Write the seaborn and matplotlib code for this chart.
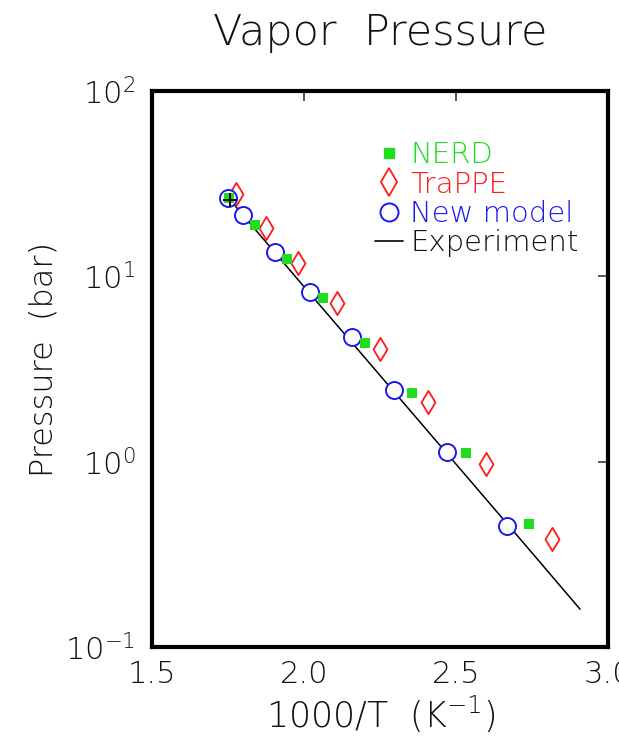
import numpy as np
import pandas as pd
import seaborn as sns
import matplotlib
matplotlib.use("Agg")
import matplotlib.pyplot as plt
from matplotlib.ticker import FixedLocator, FixedFormatter, NullLocator
from matplotlib.lines import Line2D

# ---- data ----
nerd_x = [1.753, 1.839, 1.944, 2.063, 2.201, 2.355, 2.533, 2.740]
nerd_y = [26.4, 18.9, 12.4, 7.6, 4.35, 2.36, 1.12, 0.462]

trappe_x = [1.776, 1.875, 1.980, 2.109, 2.250, 2.408, 2.599, 2.816]
trappe_y = [27.7, 18.2, 11.8, 7.14, 4.03, 2.11, 0.975, 0.384]

new_x = [1.750, 1.799, 1.905, 2.020, 2.158, 2.296, 2.470, 2.668]
new_y = [26.4, 21.4, 13.6, 8.2, 4.68, 2.45, 1.13, 0.451]

exp_x = [1.757, 2.0, 2.25, 2.5, 2.75, 2.908]
exp_y = [25.8, 8.79, 2.92, 0.970, 0.322, 0.160]

crit_x = [1.757]
crit_y = [25.8]

x_ticks = [1.5, 2.0, 2.5, 3.0]
x_ticklabels = ["1.5", "2.0", "2.5", "3.0"]
y_ticks = [0.1, 1, 10, 100]
y_ticklabels = [r"$10^{-1}$", r"$10^{0}$", r"$10^{1}$", r"$10^{2}$"]

GREEN = "#1EDC1E"
RED = "#FF1A1A"
BLUE = "#1A1AF0"
TXT = "#111111"

sns.set_style("white")
plt.rcParams["font.family"] = ["DejaVu Sans"]
plt.rcParams["font.weight"] = 200
plt.rcParams["axes.titleweight"] = 200
plt.rcParams["axes.labelweight"] = 200
plt.rcParams["mathtext.fontset"] = "custom"
plt.rcParams["mathtext.rm"] = "DejaVu Sans:weight=200"
plt.rcParams["mathtext.it"] = "DejaVu Sans:weight=200"
plt.rcParams["mathtext.default"] = "rm"

fig = plt.figure(figsize=(6.19, 7.37), dpi=100)
ax = fig.add_axes([0.2456, 0.1221, 0.7367, 0.7544])

exp_df = pd.DataFrame({"x": exp_x, "y": exp_y})
sns.lineplot(data=exp_df, x="x", y="y", ax=ax, color="black", lw=1.1,
             sort=False, zorder=2, legend=False)

tr_df = pd.DataFrame({"x": trappe_x, "y": trappe_y})
sns.scatterplot(data=tr_df, x="x", y="y", ax=ax, marker="d", s=140,
                facecolor="white", edgecolor=RED, linewidth=1.3, zorder=3,
                legend=False)

nw_df = pd.DataFrame({"x": new_x, "y": new_y})
sns.scatterplot(data=nw_df, x="x", y="y", ax=ax, marker="o", s=150,
                facecolor="white", edgecolor=BLUE, linewidth=1.4, zorder=4,
                legend=False)

nd_df = pd.DataFrame({"x": nerd_x, "y": nerd_y})
sns.scatterplot(data=nd_df, x="x", y="y", ax=ax, marker="s", s=55,
                color=GREEN, edgecolor=GREEN, linewidth=0, zorder=5,
                legend=False)

cr_df = pd.DataFrame({"x": crit_x, "y": crit_y})
sns.scatterplot(data=cr_df, x="x", y="y", ax=ax, marker="+", s=90,
                color="black", linewidth=1.4, zorder=6, legend=False)

ax.set_yscale("log")
ax.set_xlim(1.5, 3.0)
ax.set_ylim(0.1, 100)

ax.xaxis.set_major_locator(FixedLocator(x_ticks))
ax.xaxis.set_major_formatter(FixedFormatter(x_ticklabels))
ax.yaxis.set_major_locator(FixedLocator(y_ticks))
ax.yaxis.set_major_formatter(FixedFormatter(y_ticklabels))
ax.yaxis.set_minor_locator(NullLocator())
ax.xaxis.set_minor_locator(NullLocator())

ax.tick_params(axis="both", which="major", direction="in", length=7,
               width=1.1, top=True, right=True, labelsize=22,
               labelcolor=TXT)
ax.tick_params(axis="x", pad=9)
ax.tick_params(axis="y", pad=12)

for sp in ax.spines.values():
    sp.set_visible(True)
    sp.set_linewidth(3.0)
    sp.set_color("black")

ax.set_xlabel(r"1000/T  (K$^{-1}$)", fontsize=25, color=TXT, labelpad=4)
ax.set_ylabel("Pressure  (bar)", fontsize=23, color=TXT, labelpad=5)
ax.yaxis.label.set_y(0.517)
ax.set_title("Vapor  Pressure", fontsize=31, color=TXT, pad=33)

# legend
handles = [
    Line2D([], [], marker="s", ls="none", color=GREEN, markersize=7),
    Line2D([], [], marker="d", ls="none", markerfacecolor="white",
           markeredgecolor=RED, markersize=14, markeredgewidth=1.3),
    Line2D([], [], marker="o", ls="none", markerfacecolor="white",
           markeredgecolor=BLUE, markersize=13, markeredgewidth=1.4),
    Line2D([], [], color="black", lw=1.2),
]
labels = ["NERD", "TraPPE", "New model", "Experiment"]
leg = ax.legend(handles, labels, loc="upper left",
                bbox_to_anchor=(0.49, 0.91), frameon=False, fontsize=21,
                handlelength=0.95, handletextpad=0.25, labelspacing=0.05,
                borderpad=0, borderaxespad=0)
for txt, c in zip(leg.get_texts(), [GREEN, RED, BLUE, "#111111"]):
    txt.set_color(c)

fig.savefig("out.png", dpi=100)
